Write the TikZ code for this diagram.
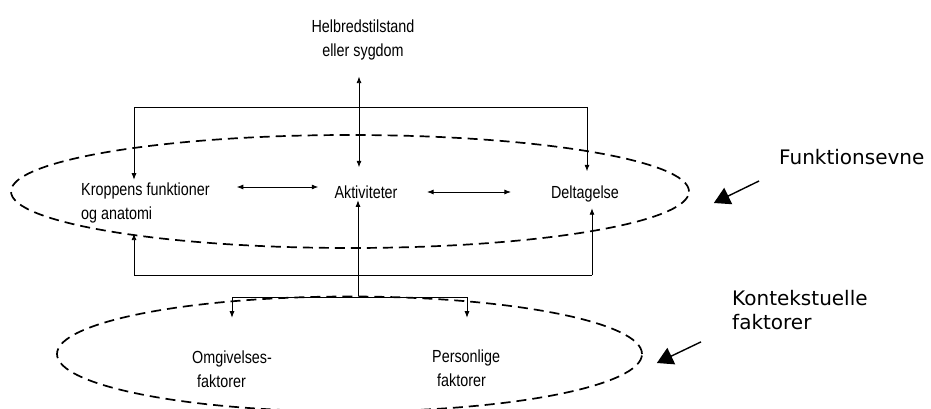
\documentclass[tikz,border=0pt]{standalone}
\usepackage{fontspec}
\setmainfont{Liberation Sans}
\newfontfamily\narrowfont[FakeStretch=0.82]{Liberation Sans}
\newfontfamily\labelfont{DejaVu Sans}
\usetikzlibrary{arrows.meta, positioning, shapes.geometric, calc}

\begin{document}
\begin{tikzpicture}[x=1pt, y=-1pt,
    txt/.style={inner sep=0pt, font=\narrowfont\fontsize{17.5pt}{24pt}\selectfont},
    lbl/.style={inner sep=0pt, align=left, font=\labelfont\fontsize{20pt}{24pt}\selectfont},
    zone/.style={draw, ellipse, inner sep=0pt, line width=1.7pt, dash pattern=on 10pt off 6pt},
    lnk/.style={line width=0.8pt},
    tip/.style={-{Latex[length=6.5pt,width=5pt]}},
    dbl/.style={{Latex[length=6.5pt,width=5pt]}-{Latex[length=6.5pt,width=5pt]}},
    big/.style={line width=1.4pt, -{Triangle[length=16pt,width=18pt]}}]
    \useasboundingbox (0,0) rectangle (931,409);

    \node[zone, minimum width=678pt, minimum height=113pt] (E1) at (350,191.5) {};
    \node[zone, minimum width=585pt, minimum height=115pt] (E2) at (349.5,354) {};

    \node[txt, align=center, anchor=north] (H) at (363,19.5) {Helbredstilstand\\eller sygdom};
    \node[txt, align=left, anchor=north west] (K) at (81,182.5) {Kroppens funktioner\\og anatomi};
    \node[txt, anchor=base] (A) at (366,198) {Aktiviteter};
    \node[txt, anchor=base] (D) at (585,198) {Deltagelse};
    \node[txt, align=left, anchor=north west] (O) at (192,350.3) {Omgivelses-\\\hspace*{5pt}faktorer};
    \node[txt, align=left, anchor=north west] (P) at (432,349.5) {Personlige\\\hspace*{5pt}faktorer};
    \node[lbl, anchor=base west] (F) at (779,164) {Funktionsevne};
    \node[lbl, anchor=north west] (KF) at (732,290) {Kontekstuelle\\faktorer};

    \coordinate (T1) at (134,107);
    \coordinate (T2) at (587,107);
    \coordinate (B1) at (134,275);
    \coordinate (B2) at (592,275);
    \coordinate (C0) at (358,296);
    \coordinate (C1) at (232,297);
    \coordinate (C2) at (467,297);

    % helbred <-> aktiviteter
    \draw[lnk, dbl, shorten <=16.4pt, shorten >=17.8pt] ([xshift=-4pt]H.south) -- ([xshift=-7pt]A.north);
    \draw[lnk, dbl, shorten <=27pt, shorten >=16pt] ([yshift=11pt]A.base west -| K.east) -- ([yshift=11pt]A.base west);
    \draw[lnk, dbl, shorten <=29.4pt, shorten >=40pt] ([yshift=6pt]A.base east) -- ([yshift=6pt]D.base west);

    % top bracket
    \draw[lnk, tip, shorten >=2.8pt] (T2) -- (T1) -- (T1 |- K.north);
    \draw[lnk, tip, shorten >=13.8pt] (T2) -- (T2 |- D.north);

    % bottom bracket
    \draw[lnk, tip, shorten >=10.4pt] (B2) -- (B1) -- (B1 |- K.south);
    \draw[lnk, tip, shorten >=6.4pt] (B2) -- (B2 |- D.south);
    \draw[lnk, tip, shorten >=2pt] (C0) -- (C0 |- A.south);

    % contextual factors
    \draw[lnk] (C1) -- (C2);
    \draw[lnk, tip, shorten >=32.6pt] (C1) -- (C1 |- O.north);
    \draw[lnk, tip, shorten >=31.8pt] (C2) -- (C2 |- P.north);

    % labels
    \draw[big] ([xshift=-20pt,yshift=-17pt]F.base west) -- ([xshift=24pt,yshift=-11.5pt]E1.east);
    \draw[big] ([xshift=-31pt,yshift=-12pt]KF.south west) -- ([xshift=14pt,yshift=-9pt]E2.east);
\end{tikzpicture}
\end{document}
